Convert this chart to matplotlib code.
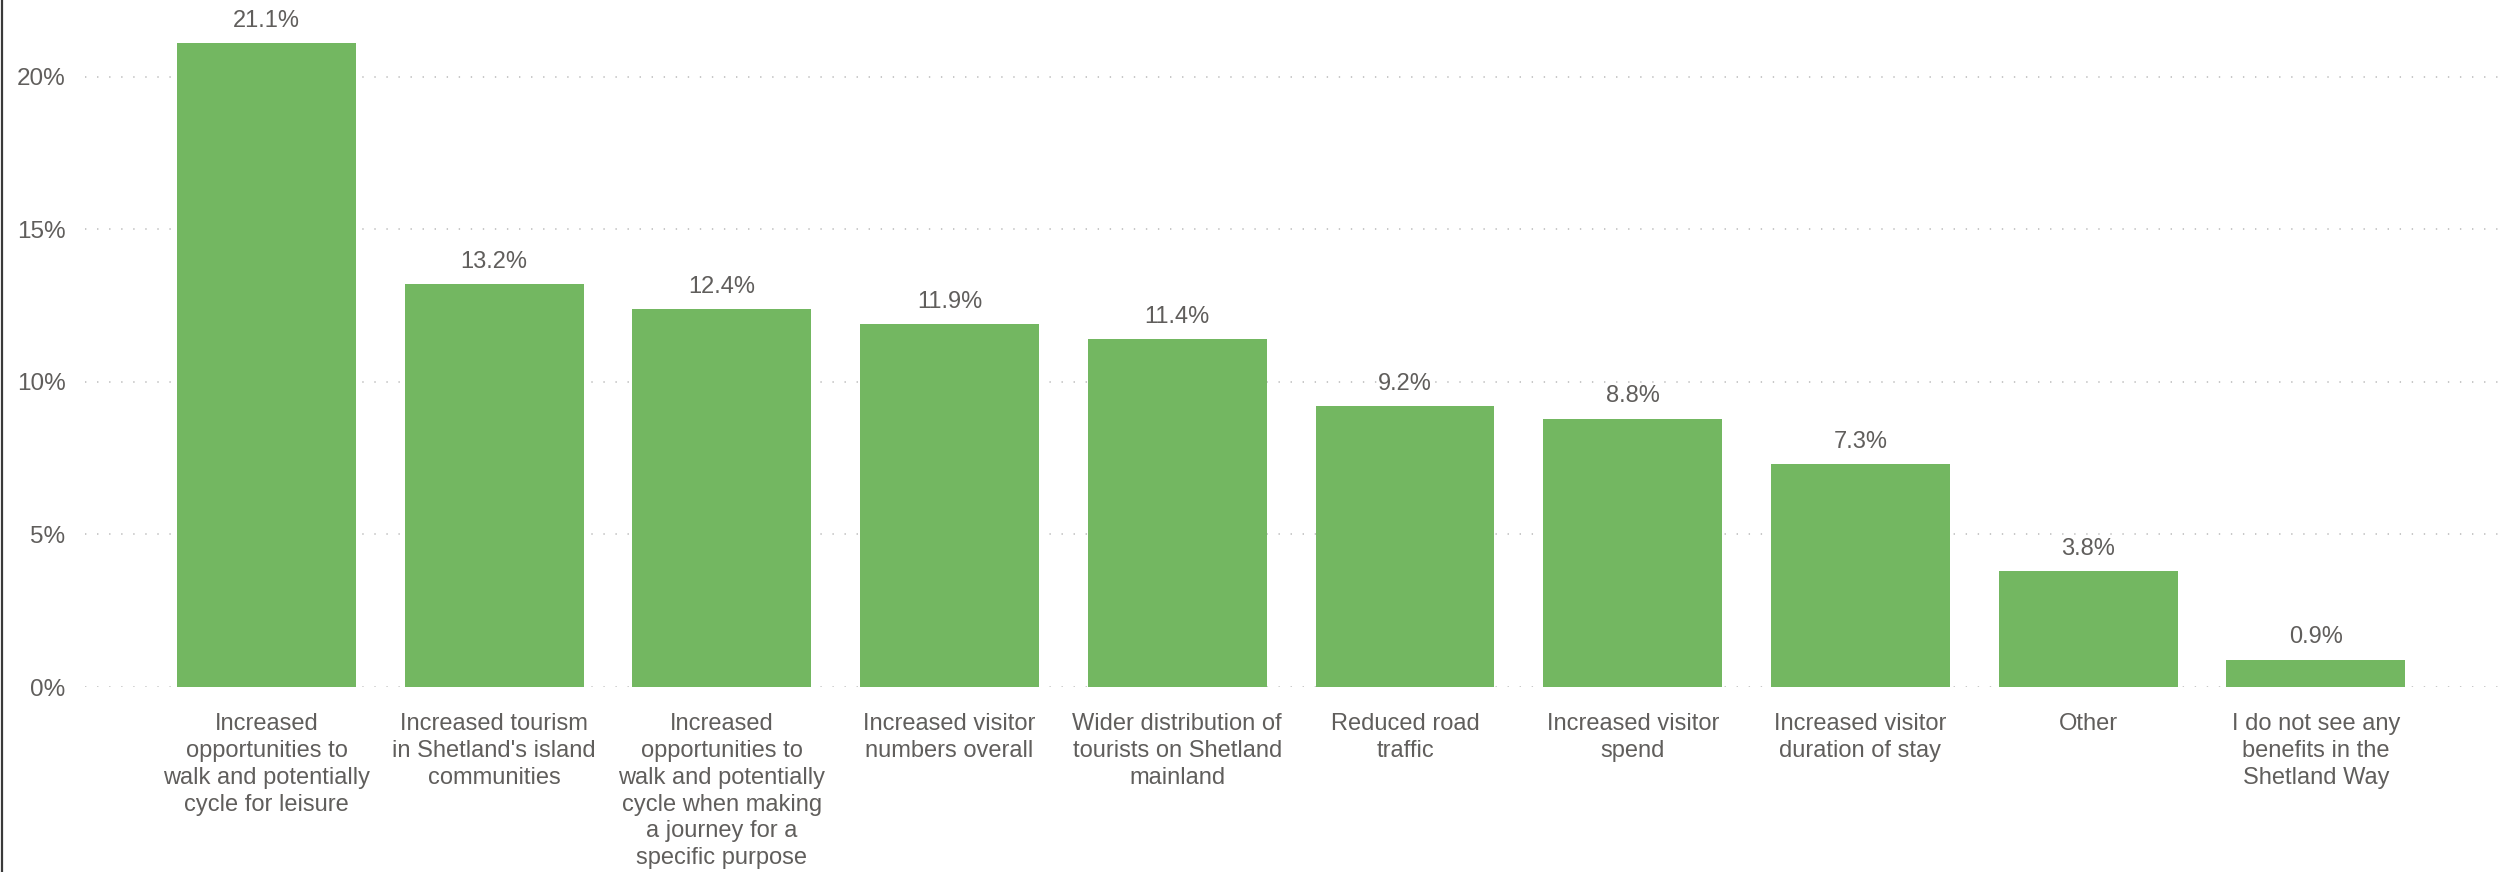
import matplotlib

matplotlib.use("Agg")
import matplotlib.pyplot as plt
from matplotlib.lines import Line2D
from matplotlib.ticker import FuncFormatter

plt.rcParams["font.family"] = ["Liberation Sans", "DejaVu Sans"]

categories = [
    "Increased\nopportunities to\nwalk and potentially\ncycle for leisure",
    "Increased tourism\nin Shetland's island\ncommunities",
    "Increased\nopportunities to\nwalk and potentially\ncycle when making\na journey for a\nspecific purpose",
    "Increased visitor\nnumbers overall",
    "Wider distribution of\ntourists on Shetland\nmainland",
    "Reduced road\ntraffic",
    "Increased visitor\nspend",
    "Increased visitor\nduration of stay",
    "Other",
    "I do not see any\nbenefits in the\nShetland Way",
]
values = [21.1, 13.2, 12.4, 11.9, 11.4, 9.2, 8.8, 7.3, 3.8, 0.9]
yticks = [0, 5, 10, 15, 20]

bar_color = "#73B761"
text_color = "#605E5C"
W, H = 2498, 872

fig = plt.figure(figsize=(W / 100, H / 100), dpi=100)
# axes: gridlines start at x=85px and run to the right edge; 0% at y=687px
ax = fig.add_axes([85 / W, 1 - 687 / H, (W - 85) / W, 687 / H])

x = list(range(len(values)))
ax.bar(x, values, width=0.786, color=bar_color, zorder=3)
for xi, v in zip(x, values):
    ax.annotate(f"{v:.1f}%", (xi, v), xytext=(0, 8), textcoords="offset points",
                ha="center", va="bottom", fontsize=17, color=text_color)

ax.set_xlim(-0.797, 9.80)
ax.set_ylim(0, 22.52)
ax.set_yticks(yticks)
ax.yaxis.set_major_formatter(FuncFormatter(lambda v, _: f"{v:.0f}%"))
ax.set_xticks(x)
ax.set_xticklabels(categories, fontsize=17, color=text_color, linespacing=1.28, va="top")
ax.tick_params(axis="y", labelsize=17.5, labelcolor=text_color, length=0, pad=14)
ax.tick_params(axis="x", length=0, pad=19)
ax.grid(axis="y", color="#C8C8C8", linewidth=1.4, linestyle=(0, (0.7, 5.5)), zorder=1)
for s in ax.spines.values():
    s.set_visible(False)

# dark frame line at the left edge
fig.add_artist(Line2D([1.5 / W, 1.5 / W], [0, 1], transform=fig.transFigure,
                      color="#3A3A3A", linewidth=1.6))

fig.savefig("out.png", dpi=100)
plt.close(fig)
